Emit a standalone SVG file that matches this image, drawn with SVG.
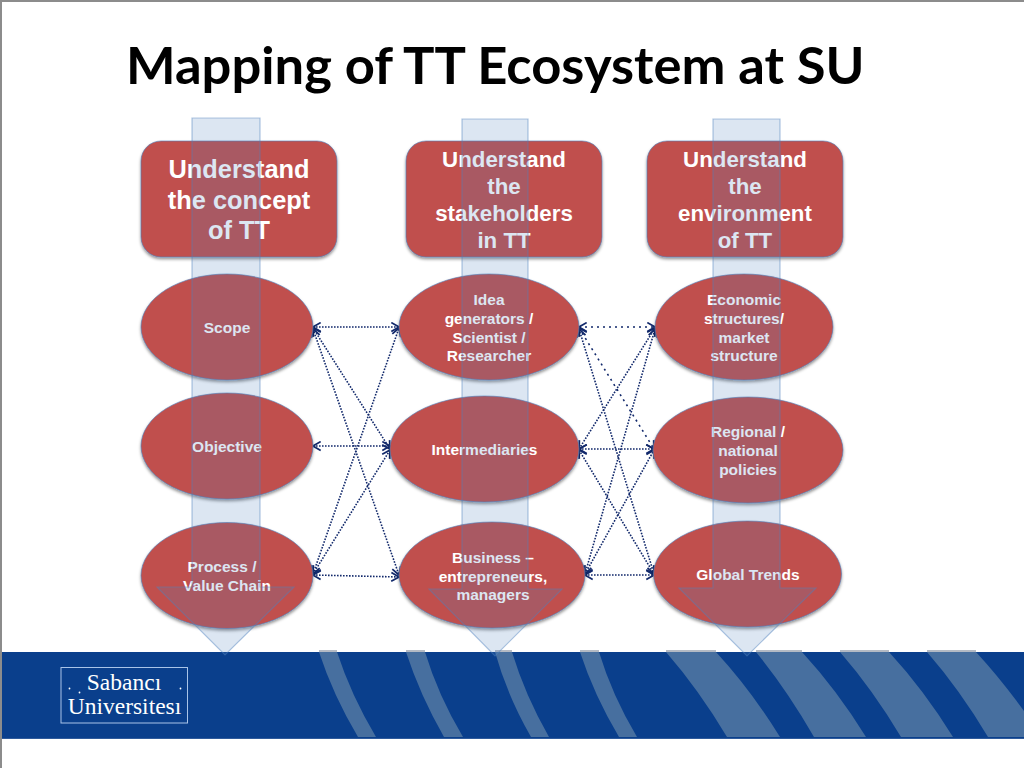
<svg xmlns="http://www.w3.org/2000/svg" width="1024" height="768" viewBox="0 0 1024 768">
<style>
.node{fill:#c0504d;stroke:#4f81bd;stroke-opacity:.6;stroke-width:1;filter:url(#sh)}
.t{font-family:"Liberation Sans",Arial,sans-serif;font-weight:700;fill:#fff;text-anchor:middle}
.h1{font-size:25.4px}.h2{font-size:22.3px}.n{font-size:15.5px}
.c{fill:none;stroke:#12296b;stroke-width:1.6;stroke-dasharray:1.6 1.4;marker-start:url(#a);marker-end:url(#a)}
.sp{stroke-dasharray:2 4}
.ov{fill:#4f81bd;fill-opacity:.2;stroke:#4f81bd;stroke-opacity:.45;stroke-width:1.2}
.st{fill:#476f9f}
.cap{stroke:#b4bac4;stroke-width:2;fill:none}
.lg{font-family:"Liberation Serif","Times New Roman",serif;fill:#fff}
</style>
<defs>
<filter id="sh" x="-10%" y="-10%" width="120%" height="125%"><feDropShadow dx="0" dy="2" stdDeviation="1.800" flood-color="#000" flood-opacity=".42"/></filter>
<marker id="a" viewBox="0 0 10 10" refX="9" refY="5" markerWidth="11" markerHeight="11" markerUnits="userSpaceOnUse" orient="auto-start-reverse"><path d="M2 1L9 5L2 9" fill="none" stroke="#12296b" stroke-width="1.6"/></marker>
</defs>
<rect width="1024" height="768" fill="#fff"/>
<path d="M1 768V1H1024" fill="none" stroke="#8c8c8c" stroke-width="2"/>
<g id="band">
<rect x="2" y="652" width="1022" height="86.500" fill="#0a3f8c"/>
<path d="M2 738.500H1024" stroke="#2f5b9c" stroke-width="1"/>
<path class="st" d="M319 652H337Q351 695 376 737H358Q333 695 319 652Z"/>
<path class="st" d="M406 652H425Q438 695 463 737H444Q420 695 406 652Z"/>
<path class="st" d="M495 652H512Q525 695 549 737H531Q507 695 495 652Z"/>
<path class="st" d="M580 652H599Q612 695 637 737H619Q594 695 580 652Z"/>
<path class="st" d="M666 652H716Q751 690 780 737H727Q699 690 666 652Z"/>
<path class="st" d="M756 652H802Q837 690 866 737H814Q787 690 756 652Z"/>
<path class="st" d="M840 652H889Q924 690 953 737H901Q873 690 840 652Z"/>
<path class="st" d="M927 652H976Q1000 678 1024 711V737H988Q960 690 927 652Z"/>
<path class="cap" d="M319 651H337M406 651H425M495 651H512M580 651H599M666 651H716M756 651H802M840 651H889M927 651H976"/>
</g>
<g id="logo">
<rect x="61" y="667.500" width="126.500" height="55.500" fill="none" stroke="#a9c4e8" stroke-width="1"/>
<text class="lg" x="124" y="690" font-size="23.500" text-anchor="middle">Sabancı</text>
<text class="lg" x="124.500" y="714" font-size="23.500" text-anchor="middle">Universitesı</text>
<circle cx="69.500" cy="688.500" r=".9" fill="#fff"/><circle cx="79.500" cy="692.500" r=".9" fill="#fff"/><circle cx="180.500" cy="688.500" r=".9" fill="#fff"/>
</g>
<text id="title" x="126" y="84" font-family="Lato,'Open Sans',sans-serif" font-weight="700" font-size="52.500" fill="#000">Mapping of TT Ecosystem at SU</text>
<g id="connectors">
<path class="c" d="M313 327H399"/>
<path class="c" d="M313 328L390 449"/>
<path class="c" d="M313 329L399 575"/>
<path class="c" d="M313 446H390"/>
<path class="c" d="M313 574L399 328"/>
<path class="c" d="M313 574L390 450"/>
<path class="c" d="M313 575L399 577"/>
<path class="c sp" d="M579 327H655"/>
<path class="c sp" d="M579 328L654 449"/>
<path class="c" d="M579 329L654 574"/>
<path class="c" d="M579 449L655 328"/>
<path class="c" d="M579 449H654"/>
<path class="c" d="M579 450L654 574"/>
<path class="c" d="M585 574L655 329"/>
<path class="c" d="M585 574L654 450"/>
<path class="c" d="M585 575H654"/>
</g>
<g id="head1"><rect class="node" x="141" y="141" width="196" height="116" rx="20"/><text class="t h1" x="239" y="178">Understand</text><text class="t h1" x="239" y="209">the concept</text><text class="t h1" x="239" y="239">of TT</text></g>
<g id="head2"><rect class="node" x="406" y="141" width="196" height="116" rx="20"/><text class="t h2" x="504" y="167">Understand</text><text class="t h2" x="504" y="194">the</text><text class="t h2" x="504" y="221">stakeholders</text><text class="t h2" x="504" y="248">in TT</text></g>
<g id="head3"><rect class="node" x="647" y="141" width="196" height="116" rx="20"/><text class="t h2" x="745" y="167">Understand</text><text class="t h2" x="745" y="194">the</text><text class="t h2" x="745" y="221">environment</text><text class="t h2" x="745" y="248">of TT</text></g>
<g id="scope"><ellipse class="node" cx="227" cy="327" rx="86" ry="53"/><text class="t n" x="227" y="333">Scope</text></g>
<g id="objective"><ellipse class="node" cx="227" cy="446" rx="86" ry="53"/><text class="t n" x="227" y="452">Objective</text></g>
<g id="process"><ellipse class="node" cx="227" cy="575.500" rx="86" ry="53"/><text class="t n" x="222" y="572">Process /</text><text class="t n" x="227" y="591">Value Chain</text></g>
<g id="idea"><ellipse class="node" cx="489" cy="327" rx="90" ry="53"/><text class="t n" x="489" y="305">Idea</text><text class="t n" x="489" y="324">generators /</text><text class="t n" x="489" y="343">Scientist /</text><text class="t n" x="489" y="361">Researcher</text></g>
<g id="intermediaries"><ellipse class="node" cx="484.500" cy="449" rx="94.500" ry="53"/><text class="t n" x="484.500" y="455">Intermediaries</text></g>
<g id="business"><ellipse class="node" cx="492" cy="575" rx="93" ry="53"/><text class="t n" x="493" y="563">Business –</text><text class="t n" x="493" y="582">entrepreneurs,</text><text class="t n" x="493" y="600">managers</text></g>
<g id="economic"><ellipse class="node" cx="744" cy="327" rx="89" ry="53"/><text class="t n" x="744" y="305">Economic</text><text class="t n" x="744" y="324">structures/</text><text class="t n" x="744" y="343">market</text><text class="t n" x="744" y="361">structure</text></g>
<g id="regional"><ellipse class="node" cx="748" cy="450" rx="95" ry="53"/><text class="t n" x="748" y="437">Regional /</text><text class="t n" x="748" y="456">national</text><text class="t n" x="748" y="475">policies</text></g>
<g id="global"><ellipse class="node" cx="747.500" cy="574" rx="94" ry="53"/><text class="t n" x="748" y="580">Global Trends</text></g>
<g id="arrow1"><path class="ov" d="M192 118H260V587H294L225 655L157 587H192Z"/></g>
<g id="arrow2"><path class="ov" d="M462 119H528V589H562L495 656L429 589H462Z"/></g>
<g id="arrow3"><path class="ov" d="M713 119H780V588H816L747 656L679 588H713Z"/></g>
</svg>
